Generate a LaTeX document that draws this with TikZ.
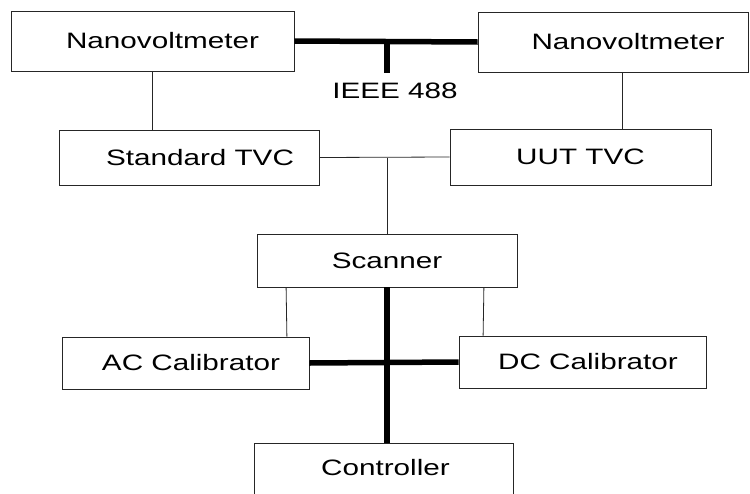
\documentclass[tikz,border=0pt]{standalone}
\usepackage{fontspec}
\setmainfont{Liberation Sans}[FakeStretch=1.33]
\usetikzlibrary{calc}
\newcommand{\shifted}[2]{\hspace*{#1}#2}
\begin{document}
\begin{tikzpicture}[x=1pt,y=-1pt,
  box/.style={draw=black!85,line width=0.8pt,inner sep=0pt,font=\fontsize{22.3}{26}\selectfont},
  thin/.style={draw=black!85,line width=0.8pt},
  bus/.style={draw=black,line width=5.5pt}]
\useasboundingbox (0,0) rectangle (750,493);
\clip (0,0) rectangle (750,493);
\node[box,minimum width=283pt,minimum height=60pt] (nvL) at (152.5,41) {\shifted{20pt}{Nanovoltmeter}};
\node[box,minimum width=270pt,minimum height=60pt] (nvR) at (613,42) {\shifted{30pt}{Nanovoltmeter}};
\node[box,minimum width=260pt,minimum height=55pt] (std) at (189,157.5) {\shifted{22pt}{Standard TVC}};
\node[box,minimum width=261pt,minimum height=56pt] (uut) at (580.5,157) {UUT TVC};
\node[box,minimum width=260pt,minimum height=53pt] (scan) at (387,260.5) {Scanner};
\node[box,minimum width=247pt,minimum height=52pt] (ac) at (185.5,363) {\shifted{11pt}{AC Calibrator}};
\node[box,minimum width=247pt,minimum height=52pt] (dc) at (582.5,362) {\shifted{11pt}{DC Calibrator}};
\node[box,minimum width=259pt,minimum height=60pt,anchor=north] (ctrl) at (383.5,443) {\shifted{4pt}{\raisebox{11pt}{Controller}}};
\node[font=\fontsize{22.3}{26}\selectfont,inner sep=0pt,anchor=north] (ieee) at (395,83) {IEEE 488};
\coordinate (busdrop) at (387,73);
% IEEE bus
\draw[bus] (nvL.east) -- (nvR.west);
\draw[bus] (nvL.east -| busdrop) -- (busdrop);
% thin connections
\draw[thin] (nvL.south) -- (std.north -| nvL.south);
\draw[thin] ($(nvR.south)+(9.5,0)$) -- ($(uut.north)+(42,0)$);
\draw[thin] (std.east) -- (uut.west);
\draw[thin] (scan.north) -- (scan.north |- std.east);
\draw[thin] ($(scan.south west)+(29.5,0)$) -- ($(ac.north east)+(-22.5,0)$);
\draw[thin] ($(scan.south east)+(-33.5,0)$) -- ($(dc.north west)+(24.5,0)$);
% control bus
\draw[bus] (scan.south) -- (scan.south |- ctrl.north);
\draw[bus] (ac.east) -- (dc.west);
\end{tikzpicture}
\end{document}
